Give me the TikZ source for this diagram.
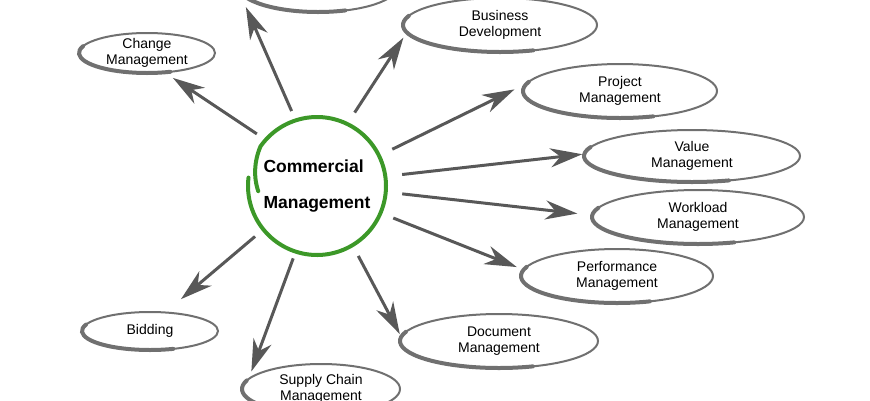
\documentclass[tikz,border=0pt]{standalone}
\usepackage{fontspec}
\setmainfont{Liberation Sans}
\usetikzlibrary{shapes.geometric,arrows.meta}
\definecolor{ringgreen}{RGB}{60,152,40}
\definecolor{ovalgray}{RGB}{112,112,112}
\definecolor{arrowgray}{RGB}{88,88,88}
\tikzset{
  oval/.style={ellipse, draw=ovalgray, line width=2pt, inner sep=0pt},
  ovalrim/.style={draw=ovalgray, line width=4pt, line cap=round},
  ovaltext/.style={align=center, font=\fontsize{14}{15.5}\selectfont},
  spoke/.style={draw=arrowgray, line width=3pt, -{Stealth[length=32pt,width=19pt,inset=10pt]}},
  ring/.style={draw=ringgreen, line width=4pt, line cap=round},
}

\begin{document}
\begin{tikzpicture}[x=1pt,y=-1pt]
  \useasboundingbox (0,0) rectangle (870,400);
  \clip (0,0) rectangle (870,400);
  \node[circle, minimum size=138pt, inner sep=0pt, align=left, font=\bfseries\fontsize{17.5}{36}\selectfont] (hub) at (317,186) {Commercial\\Management};
  \draw[ring, shift={(hub.center)}] plot[domain=-545:-173, samples=150] (\x:{69-10*max(0,(-505-\x)/40)});
  % name / x / y / width / height / text
  \foreach \n/\x/\y/\w/\h/\txt in {top/318/-14/160/52/{},
      chg/147/53/136/40/{Change\\Management},
      biz/500/25/194/54/{Business\\Development},
      proj/620/91/194/54/{Project\\Management},
      val/692/156/216/52/{Value\\Management},
      work/698/217/212/54/{Workload\\Management},
      perf/617/276/192/54/{Performance\\Management},
      doc/499/341/198/54/{Document\\Management},
      sup/321/389/158/50/{Supply Chain\\Management},
      bid/150/331/136/38/{Bidding}}
  {
    \node[oval, minimum width=\w pt, minimum height=\h pt, label={[ovaltext]center:\txt}] (\n) at (\x,\y) {};
    \draw[ovalrim, shift={(\n.center)}] (200:{\w/2} and {\h/2}) arc[start angle=200, end angle=70, x radius=\w/2, y radius=\h/2];
  }
  % name / hub angle / node angle / shorten at hub / shorten at node
  \foreach \n/\a/\b/\s/\e in {chg/138/-47/10.5/8.5, top/108/185/10/15.5, biz/64/185/13.4/5.3,
      proj/26/176/14.6/11.5, val/8/179/16.7/1, work/-5/179/16.4/14, perf/-23/176/13.5/6.4,
      doc/-59/177/12/2, sup/-108/171/7/6.5, bid/219/50/10.7/19.2}
    \draw[spoke, shorten <=\s pt, shorten >=\e pt] (hub.\a) -- (\n.\b);
\end{tikzpicture}
\end{document}
